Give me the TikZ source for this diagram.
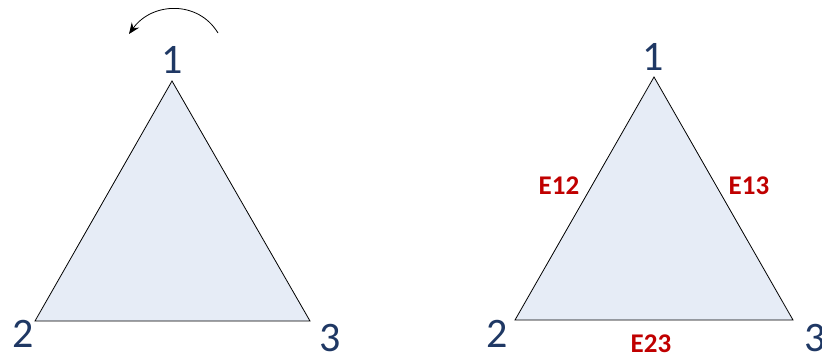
\documentclass[tikz,border=0pt]{standalone}
\usepackage{fontspec}
\setmainfont{Carlito}
\usetikzlibrary{arrows.meta}
\definecolor{vtxblue}{HTML}{1F3864}
\definecolor{edgered}{HTML}{C00000}
\definecolor{trifill}{HTML}{E6ECF6}

\begin{document}
\begin{tikzpicture}[x=1pt,y=-1pt,
    vtx/.style={text=vtxblue,inner sep=0pt,font=\fontsize{42}{42}\selectfont},
    elab/.style={text=edgered,inner sep=0pt,font=\bfseries\fontsize{27}{27}\selectfont},
    tri/.style={draw=black,fill=trifill,line width=0.8pt,line join=miter}]
  \useasboundingbox (0,0) rectangle (822,356);

  % left triangle with turning arrow
  \coordinate (l1) at (172,81);
  \coordinate (l2) at (35,321);
  \coordinate (l3) at (310,321);
  \draw[tri] (l1) -- (l2) -- (l3) -- cycle;
  \node[vtx] (lv1) at (172,60) {1};
  \node[vtx] (lv2) at (23,334) {2};
  \node[vtx] (lv3) at (330,338) {3};
  \coordinate (rs) at (218,33);
  \coordinate (re) at (129,34);
  \draw[line width=0.8pt,-{Stealth[length=11pt,width=9pt]}] (rs) .. controls (198,0) and (152,2) .. (re);

  % right triangle with edge names
  \coordinate (r1) at (654,77);
  \coordinate (r2) at (515,320);
  \coordinate (r3) at (793,320);
  \draw[tri] (r1) -- (r2) -- (r3) -- cycle;
  \node[vtx] (rv1) at (653,57) {1};
  \node[vtx] (rv2) at (497,334) {2};
  \node[vtx] (rv3) at (815,338) {3};
  \node[elab] (e12) at (559,186) {E12};
  \node[elab] (e13) at (749,186) {E13};
  \node[elab] (e23) at (651,344) {E23};
\end{tikzpicture}
\end{document}
